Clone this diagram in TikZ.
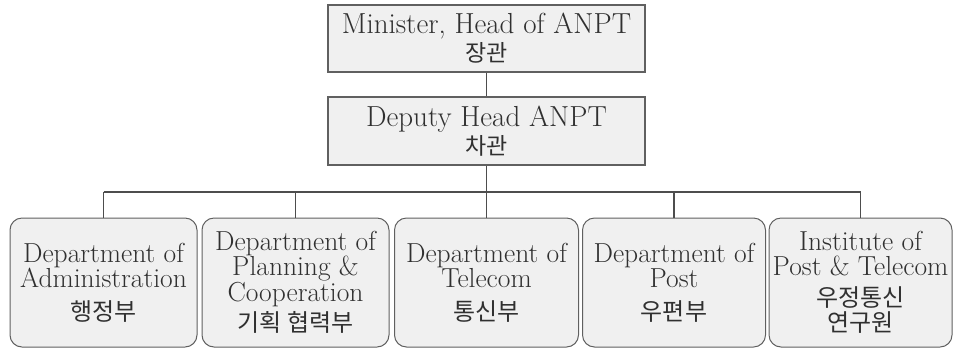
\documentclass[tikz,border=0pt]{standalone}
\usepackage{fontspec}
\newfontfamily\kr{Noto Sans CJK KR}
\definecolor{boxfill}{HTML}{F0F0F0}
\definecolor{boxline}{HTML}{606060}
\definecolor{inktext}{HTML}{303030}

\begin{document}
\begin{tikzpicture}[x=1pt,y=-1pt]
	\tikzstyle{Head} = [draw=boxline,fill=boxfill,line width=1.4pt,minimum width=317pt,inner sep=1pt,
		text=inktext,align=center,font=\fontsize{29}{29}\selectfont]
	\tikzstyle{Dept} = [draw=boxline,fill=boxfill,line width=1pt,rounded corners=12pt,minimum height=129pt,
		inner sep=1pt,text=inktext,align=center,font=\fontsize{27.5}{25.5}\selectfont]
	\tikzstyle{Link} = [draw=boxline!80!black,line width=1.3pt]
	\useasboundingbox (0,0) rectangle (965,349);
	\node[Head,minimum height=67pt] (minister) at (486.5,38.5) {Minister, Head of ANPT\\[-1pt]\kr\fontsize{23}{24}\selectfont 장관};
	\node[Head,minimum height=68pt] (deputy) at (486.5,131) {Deputy Head ANPT\\[-1pt]\kr\fontsize{23}{24}\selectfont 차관};
	\node[Dept,minimum width=187pt] (admin) at (103.5,282.5) {Department of\\Administration\\[7pt]\kr\fontsize{24}{24}\selectfont 행정부};
	\node[Dept,minimum width=187pt] (plan) at (295.5,282.5) {Department of\\Planning \&\\Cooperation\\[5pt]\kr\fontsize{24}{24}\selectfont 기획 협력부};
	\node[Dept,minimum width=184pt] (telecom) at (486.5,282.5) {Department of\\Telecom\\[7pt]\kr\fontsize{24}{24}\selectfont 통신부};
	\node[Dept,minimum width=183pt] (post) at (674,282.5) {Department of\\Post\\[7pt]\kr\fontsize{24}{24}\selectfont 우편부};
	\node[Dept,minimum width=183pt] (institute) at (860.5,282.5) {Institute of\\Post \& Telecom\\[5pt]\kr\fontsize{24}{24}\selectfont 우정통신\\\kr\fontsize{24}{24}\selectfont 연구원};
	\coordinate (bar) at (486.5,192);
	\draw[Link] (minister) -- (deputy);
	\draw[Link] (deputy) -- (bar);
	\draw[Link] (bar -| admin.north) -- (bar -| institute.north);
	\foreach \d in {admin,plan,telecom,post,institute}
		\draw[Link] (bar -| \d.north) -- (\d.north);
\end{tikzpicture}
\end{document}
